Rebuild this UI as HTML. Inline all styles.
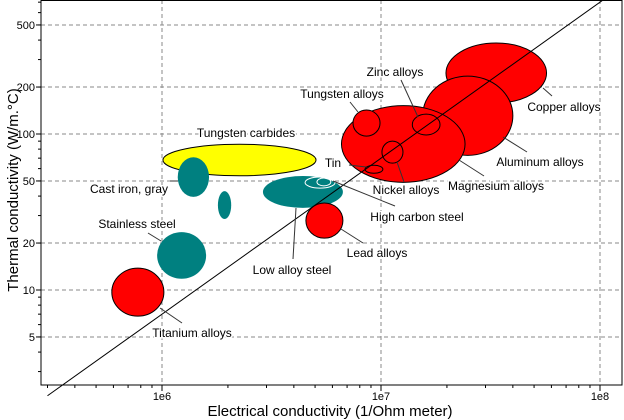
<!DOCTYPE html>
<html><head><meta charset="utf-8"><style>
html,body{margin:0;padding:0;background:#fff}
svg{display:block;font-family:"Liberation Sans","DejaVu Sans",sans-serif}
.lbl{font-size:12px;fill:#000;paint-order:stroke;stroke:#fff;stroke-width:3px}
</style></head><body>
<svg id="chart" width="624" height="420" viewBox="0 0 624 420" xmlns="http://www.w3.org/2000/svg">
<g id="grid"></g>
<g id="marks"></g>
<g id="anno"></g>
<g id="axes"></g>
<text x="330" y="416" text-anchor="middle" font-size="15">Electrical conductivity (1/Ohm meter)</text>
<text transform="translate(18,190) rotate(-90)" text-anchor="middle" font-size="15">Thermal conductivity (W/m.°C)</text>
</svg>
<script>
const materials = ["Tungsten carbides","Cast iron, gray","Cast iron small","Stainless steel","Titanium alloys","Low alloy steel","Lead alloys","Copper alloys","Aluminum alloys","Magnesium alloys","Tungsten alloys","Tin","Nickel alloys","Zinc alloys","High carbon steel","High carbon steel inner"];
const xMin = [1.01e6,1.18e6,1.8e6,0.95e6,0.59e6,2.89e6,4.54e6,19.8e6,15.5e6,6.6e6,7.45e6,8.45e6,10.1e6,13.9e6,4.5e6,5.1e6];
const xMax = [5.05e6,1.64e6,2.07e6,1.59e6,1.02e6,6.7e6,6.7e6,57e6,40e6,24.2e6,9.9e6,10.2e6,12.6e6,18.6e6,6.17e6,5.9e6];
const yMin = [54,39.5,28.5,11.8,6.8,33.6,21.5,158,73,49,97,56,65,98.6,45,46.5];
const yMax = [86,71,43,23.5,13.8,53.8,36.1,383,235,152,142.5,63,90,134,53,52.2];
const colors = ["#ffff00","#008080","#008080","#008080","#ff0000","#008080","#ff0000","#ff0000","#ff0000","#ff0000","#ff0000","#ff0000","#ff0000","#ff0000","none","none"];
const strokes = ["#000","none","none","none","#000","none","#000","#000","#000","#000","#000","#000","#000","#000","#fff","#fff"];
const yTicks = [5,10,20,50,100,200,500];
const yTickLabels = ["5","10","20","50","100","200","500"];
const xTicks = [1e6,1e7,1e8];
const xTickLabels = ["1e6","1e7","1e8"];
const refK = 7e-6;

const L=41,R=622,T=0,B=385;
const xs=v=>162+219*Math.log10(v/1e6);
const ys=v=>290-156*Math.log10(v/10);
const NS="http://www.w3.org/2000/svg";
function mk(p,tag,at){const e=document.createElementNS(NS,tag);for(const k in at)e.setAttribute(k,at[k]);p.appendChild(e);return e;}
const grid=document.getElementById('grid'),marks=document.getElementById('marks'),axes=document.getElementById('axes'),anno=document.getElementById('anno');
yTicks.forEach((t,i)=>{
 const l=mk(grid,'line',{x1:L,x2:R,y1:ys(t),y2:ys(t),stroke:'#888','stroke-dasharray':'4,3'});
 
 
 const tx=mk(axes,'text',{x:35,y:ys(t)+4,'text-anchor':'end','font-size':11});
 tx.textContent=yTickLabels[i];
 
 
 mk(axes,'line',{x1:L-5,x2:L,y1:ys(t),y2:ys(t),stroke:'#000'});
});
xTicks.forEach((t,i)=>{
 const l=mk(grid,'line',{x1:xs(t),x2:xs(t),y1:T,y2:B,stroke:'#888','stroke-dasharray':'4,3'});
 
 
 const tx=mk(axes,'text',{x:xs(t),y:400,'text-anchor':'middle','font-size':11});
 tx.textContent=xTickLabels[i];
 
 
 mk(axes,'line',{x1:xs(t),x2:xs(t),y1:B,y2:B+6,stroke:'#000'});
});
for(let d=1e5;d<1e8;d*=10)for(let m=2;m<10;m++){const x=xs(d*m);if(x>L&&x<R)mk(axes,'line',{x1:x,x2:x,y1:B,y2:B+3,stroke:'#000'});}
for(let d=1;d<1000;d*=10)for(let m=2;m<10;m++){const y=ys(d*m);if(y>T&&y<B)mk(axes,'line',{x1:L-3,x2:L,y1:y,y2:y,stroke:'#000'});}
materials.forEach((m,i)=>{
 const x1=xs(xMin[i]),x2=xs(xMax[i]),y1=ys(yMax[i]),y2=ys(yMin[i]);
 const e=mk(marks,'ellipse',{cx:(x1+x2)/2,cy:(y1+y2)/2,rx:(x2-x1)/2,ry:(y2-y1)/2,fill:colors[i],stroke:strokes[i],'stroke-width':1});
 
 
});
const ln=mk(marks,'line',{x1:xs(3e5),y1:ys(refK*3e5),x2:xs(1.2e8),y2:ys(refK*1.2e8),stroke:'#000','stroke-width':1});


const labels=[
 ["Tungsten carbides",246,137,null],
 ["Cast iron, gray",129,193,[170,181,178,181]],
 ["Stainless steel",137,228,[148,233,161,241]],
 ["Titanium alloys",192,337,[160,308,182,323]],
 ["Low alloy steel",292,274,[296,208,293,259]],
 ["High carbon steel",417,221,[333,181,395,206]],
 ["Lead alloys",377,257,[341,229,363,243]],
 ["Nickel alloys",406,194,[397,162,404,182]],
 ["Magnesium alloys",496,190,[459,160,484,176]],
 ["Aluminum alloys",540,166,[503,137,527,152]],
 ["Copper alloys",564,111,[543,88,552,96]],
 ["Zinc alloys",395,76,[401,80,418,117]],
 ["Tungsten alloys",342,98,[350,102,358,112]],
 ["Tin",333,167,[349,165,366,167]]
];
labels.forEach(l=>{
 if(l[3]){const s=mk(anno,'line',{x1:l[3][0],y1:l[3][1],x2:l[3][2],y2:l[3][3],stroke:'#333'});
 
 }
 const t=mk(anno,'text',{x:l[1],y:l[2],'text-anchor':'middle',class:'lbl'});
 t.textContent=l[0];
 
 
});
const fr=mk(axes,'rect',{x:L,y:T+0.5,width:R-L,height:B-T-0.5,fill:'none',stroke:'#000'});


</script>
</body></html>
